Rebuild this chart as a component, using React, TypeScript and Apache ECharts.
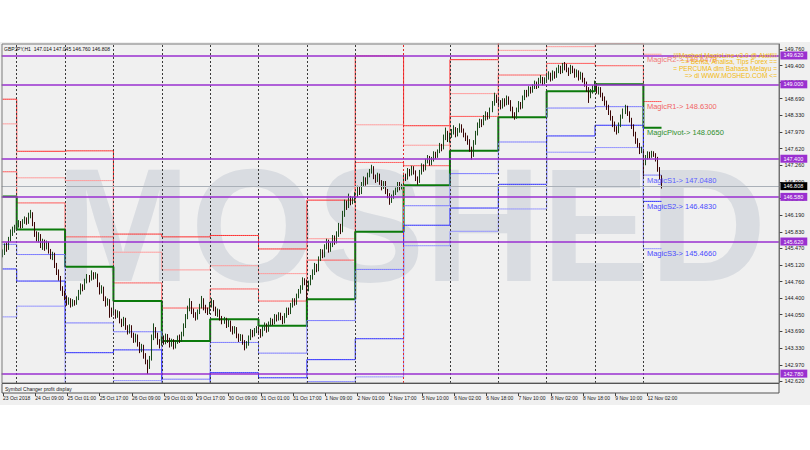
import React, { useEffect, useRef } from 'react';
import * as echarts from 'echarts';

// ---------- data ----------
const dayNames = ['23 Oct', '24 Oct', '25 Oct', '26 Oct', '29 Oct', '30 Oct', '31 Oct', '1 Nov', '2 Nov', '5 Nov', '6 Nov', '7 Nov', '8 Nov', '9 Nov', '12 Nov'];
const dayFirstHour = [17, 0, 0, 0, 0, 0, 0, 0, 0, 1, 0, 0, 0, 0, 0];

// H1 candles: [open, close, low, high]
const oct23 = [
  [145.35, 145.38, 145.28, 145.45], [145.38, 145.52, 145.33, 145.58], [145.52, 145.47, 145.40, 145.60], [145.47, 145.66, 145.44, 145.72],
  [145.66, 145.80, 145.62, 145.88], [145.80, 145.86, 145.74, 145.94], [145.86, 145.91, 145.81, 145.98],
];
const oct24 = [
  [145.91, 145.98, 145.86, 146.04], [145.98, 146.02, 145.92, 146.08], [146.02, 145.95, 145.90, 146.06], [145.95, 146.05, 145.91, 146.10],
  [146.05, 146.10, 146.00, 146.16], [146.10, 146.03, 145.98, 146.14], [146.03, 146.18, 146.00, 146.24], [146.18, 146.22, 146.12, 146.30],
  [146.22, 146.00, 145.95, 146.25], [146.00, 145.78, 145.72, 146.04], [145.78, 145.70, 145.62, 145.84], [145.70, 145.74, 145.60, 145.82],
  [145.74, 145.55, 145.48, 145.78], [145.55, 145.62, 145.44, 145.68], [145.62, 145.50, 145.42, 145.66], [145.50, 145.58, 145.45, 145.64],
  [145.58, 145.42, 145.36, 145.62], [145.42, 145.30, 145.24, 145.46], [145.30, 145.35, 145.22, 145.40], [145.35, 145.12, 145.05, 145.38],
  [145.12, 144.98, 144.90, 145.16], [144.98, 144.85, 144.78, 145.02], [144.85, 144.62, 144.56, 144.88], [144.62, 144.50, 144.45, 144.66],
];
const oct25 = [
  [144.50, 144.42, 144.36, 144.56], [144.42, 144.30, 144.24, 144.46], [144.30, 144.36, 144.26, 144.42], [144.36, 144.25, 144.20, 144.40],
  [144.25, 144.33, 144.22, 144.38], [144.33, 144.28, 144.24, 144.36], [144.28, 144.40, 144.26, 144.44], [144.40, 144.52, 144.36, 144.58],
  [144.52, 144.66, 144.48, 144.72], [144.66, 144.60, 144.55, 144.70], [144.60, 144.78, 144.58, 144.82], [144.78, 144.85, 144.72, 144.92],
  [144.85, 144.80, 144.74, 144.90], [144.80, 144.92, 144.78, 145.00], [144.92, 144.86, 144.80, 144.96], [144.86, 144.90, 144.82, 144.96],
  [144.90, 144.70, 144.64, 144.93], [144.70, 144.55, 144.48, 144.74], [144.55, 144.62, 144.50, 144.68], [144.62, 144.40, 144.34, 144.65],
  [144.40, 144.30, 144.22, 144.44], [144.30, 144.35, 144.24, 144.40], [144.35, 144.15, 143.98, 144.38], [144.15, 144.07, 144.00, 144.20],
];
const oct26 = [
  [144.07, 144.12, 144.03, 144.30], [144.12, 144.02, 143.96, 144.16], [144.02, 144.08, 143.98, 144.14], [144.08, 143.92, 143.86, 144.12],
  [143.92, 143.85, 143.78, 143.96], [143.85, 143.95, 143.80, 144.00], [143.95, 143.78, 143.72, 143.98], [143.78, 143.70, 143.62, 143.82],
  [143.70, 143.78, 143.64, 143.84], [143.78, 143.62, 143.55, 143.82], [143.62, 143.50, 143.44, 143.66], [143.50, 143.58, 143.45, 143.64],
  [143.58, 143.42, 143.36, 143.62], [143.42, 143.30, 143.22, 143.46], [143.30, 143.36, 143.24, 143.42], [143.36, 143.18, 143.10, 143.40],
  [143.18, 143.05, 142.98, 143.22], [143.05, 142.92, 142.77, 143.08], [142.92, 143.10, 142.88, 143.16], [143.10, 143.55, 143.06, 143.62],
  [143.55, 143.72, 143.50, 143.86], [143.72, 143.60, 143.54, 143.78], [143.60, 143.48, 143.40, 143.66], [143.48, 143.37, 143.32, 143.52],
];
const oct29 = [
  [143.42, 143.52, 143.38, 143.58], [143.52, 143.45, 143.40, 143.60], [143.45, 143.58, 143.41, 143.64], [143.58, 143.50, 143.44, 143.63],
  [143.50, 143.40, 143.34, 143.55], [143.40, 143.48, 143.36, 143.53], [143.48, 143.36, 143.30, 143.52], [143.36, 143.45, 143.32, 143.50],
  [143.45, 143.55, 143.42, 143.60], [143.55, 143.50, 143.44, 143.62], [143.50, 143.62, 143.46, 143.68], [143.62, 143.80, 143.58, 143.86],
  [143.80, 144.00, 143.76, 144.06], [144.00, 144.18, 143.95, 144.24], [144.18, 144.30, 144.12, 144.40], [144.30, 144.12, 144.06, 144.34],
  [144.12, 144.05, 143.98, 144.18], [144.05, 143.98, 143.92, 144.10], [143.98, 144.10, 143.94, 144.16], [144.10, 144.22, 144.06, 144.28],
  [144.22, 144.35, 144.18, 144.45], [144.35, 144.20, 144.14, 144.40], [144.20, 144.15, 144.08, 144.26], [144.15, 144.10, 144.04, 144.20],
];
const oct30 = [
  [144.10, 144.25, 144.06, 144.32], [144.25, 144.32, 144.20, 144.40], [144.32, 144.18, 144.12, 144.36], [144.18, 144.08, 144.02, 144.22],
  [144.08, 144.12, 144.00, 144.18], [144.12, 143.98, 143.92, 144.16], [143.98, 143.90, 143.84, 144.02], [143.90, 143.95, 143.85, 144.00],
  [143.95, 143.82, 143.76, 143.98], [143.82, 143.88, 143.78, 143.94], [143.88, 143.75, 143.68, 143.92], [143.75, 143.68, 143.62, 143.80],
  [143.68, 143.74, 143.64, 143.80], [143.74, 143.60, 143.54, 143.78], [143.60, 143.52, 143.46, 143.64], [143.52, 143.58, 143.48, 143.63],
  [143.58, 143.45, 143.40, 143.62], [143.45, 143.36, 143.28, 143.50], [143.36, 143.42, 143.32, 143.48], [143.42, 143.55, 143.38, 143.60],
  [143.55, 143.68, 143.50, 143.74], [143.68, 143.62, 143.56, 143.72], [143.62, 143.70, 143.58, 143.76], [143.70, 143.75, 143.65, 143.80],
];
const oct31 = [
  [143.75, 143.70, 143.64, 143.80], [143.70, 143.62, 143.55, 143.74], [143.62, 143.75, 143.58, 143.80], [143.75, 143.82, 143.70, 143.88],
  [143.82, 143.72, 143.66, 143.86], [143.72, 143.85, 143.68, 143.90], [143.85, 143.92, 143.80, 143.98], [143.92, 143.88, 143.82, 143.96],
  [143.88, 144.00, 143.84, 144.06], [144.00, 143.95, 143.90, 144.05], [143.95, 144.05, 143.92, 144.10], [144.05, 143.98, 143.93, 144.09],
  [143.98, 143.90, 143.84, 144.02], [143.90, 144.02, 143.86, 144.08], [144.02, 144.15, 143.98, 144.20], [144.15, 144.10, 144.04, 144.20],
  [144.10, 144.25, 144.06, 144.30], [144.25, 144.35, 144.20, 144.40], [144.35, 144.30, 144.24, 144.40], [144.30, 144.45, 144.26, 144.50],
  [144.45, 144.55, 144.40, 144.60], [144.55, 144.62, 144.50, 144.68], [144.62, 144.78, 144.58, 144.85], [144.78, 144.75, 144.68, 144.83],
];
const nov1 = [
  [144.75, 144.60, 144.35, 144.80], [144.60, 144.72, 144.55, 144.78], [144.72, 144.85, 144.68, 144.90], [144.85, 144.95, 144.80, 145.02],
  [144.95, 145.10, 144.90, 145.16], [145.10, 145.02, 144.96, 145.14], [145.02, 145.25, 144.98, 145.30], [145.25, 145.40, 145.20, 145.46],
  [145.40, 145.32, 145.26, 145.45], [145.32, 145.50, 145.28, 145.56], [145.50, 145.62, 145.45, 145.68], [145.62, 145.45, 145.38, 145.66],
  [145.45, 145.55, 145.40, 145.60], [145.55, 145.70, 145.50, 145.76], [145.70, 145.62, 145.55, 145.75], [145.62, 145.78, 145.58, 145.84],
  [145.78, 145.95, 145.72, 146.02], [145.95, 145.85, 145.78, 146.00], [145.85, 146.20, 145.82, 146.28], [146.20, 146.45, 146.15, 146.52],
  [146.45, 146.38, 146.30, 146.50], [146.38, 146.55, 146.34, 146.65], [146.55, 146.48, 146.40, 146.60], [146.48, 146.50, 146.42, 146.58],
];
const nov2 = [
  [146.50, 146.62, 146.45, 146.68], [146.62, 146.75, 146.58, 146.82], [146.75, 146.68, 146.62, 146.80], [146.68, 146.85, 146.64, 146.90],
  [146.85, 146.95, 146.80, 147.02], [146.95, 146.88, 146.82, 147.00], [146.88, 147.05, 146.85, 147.10], [147.05, 147.12, 147.00, 147.18],
  [147.12, 147.20, 147.08, 147.27], [147.20, 147.02, 146.96, 147.24], [147.02, 146.95, 146.88, 147.06], [146.95, 147.05, 146.90, 147.10],
  [147.05, 146.90, 146.84, 147.08], [146.90, 146.80, 146.72, 146.94], [146.80, 146.88, 146.75, 146.92], [146.88, 146.70, 146.64, 146.92],
  [146.70, 146.62, 146.55, 146.75], [146.62, 146.50, 146.41, 146.66], [146.50, 146.58, 146.45, 146.63], [146.58, 146.66, 146.54, 146.72],
  [146.66, 146.72, 146.62, 146.78], [146.72, 146.85, 146.68, 146.90], [146.85, 146.78, 146.72, 146.90], [146.78, 146.80, 146.74, 146.86],
];
const nov5 = [
  [146.82, 147.05, 146.80, 147.10], [147.05, 146.98, 146.92, 147.08], [146.98, 147.15, 146.95, 147.20], [147.15, 147.08, 147.02, 147.18],
  [147.08, 147.20, 147.04, 147.25], [147.20, 147.12, 147.06, 147.24], [147.12, 146.98, 146.92, 147.15], [146.98, 146.90, 146.84, 147.02],
  [146.90, 147.10, 146.88, 147.16], [147.10, 147.25, 147.06, 147.30], [147.25, 147.18, 147.12, 147.28], [147.18, 147.35, 147.15, 147.40],
  [147.35, 147.42, 147.30, 147.48], [147.42, 147.30, 147.25, 147.46], [147.30, 147.38, 147.26, 147.44], [147.38, 147.50, 147.34, 147.56],
  [147.50, 147.45, 147.40, 147.55], [147.45, 147.55, 147.42, 147.60], [147.55, 147.68, 147.52, 147.74], [147.68, 147.62, 147.56, 147.72],
  [147.62, 147.85, 147.60, 147.92], [147.85, 147.95, 147.80, 148.07], [147.95, 147.81, 147.76, 148.00],
];
const nov6 = [
  [147.81, 147.90, 147.75, 147.96], [147.90, 147.98, 147.85, 148.04], [147.98, 148.05, 147.92, 148.12], [148.05, 147.92, 147.86, 148.08],
  [147.92, 148.00, 147.88, 148.06], [148.00, 148.10, 147.96, 148.16], [148.10, 148.02, 147.96, 148.14], [148.02, 147.92, 147.86, 148.05],
  [147.92, 147.85, 147.78, 147.96], [147.85, 147.78, 147.70, 147.90], [147.78, 147.62, 147.55, 147.82], [147.62, 147.48, 147.38, 147.66],
  [147.48, 147.75, 147.44, 147.80], [147.75, 147.95, 147.70, 148.00], [147.95, 148.12, 147.90, 148.18], [148.12, 148.20, 148.06, 148.26],
  [148.20, 148.15, 148.08, 148.25], [148.15, 148.28, 148.12, 148.34], [148.28, 148.35, 148.22, 148.42], [148.35, 148.30, 148.24, 148.40],
  [148.30, 148.45, 148.26, 148.50], [148.45, 148.58, 148.40, 148.64], [148.58, 148.72, 148.54, 148.82], [148.72, 148.67, 148.60, 148.78],
];
const nov7 = [
  [148.67, 148.60, 148.54, 148.72], [148.60, 148.52, 148.46, 148.66], [148.52, 148.65, 148.48, 148.70], [148.65, 148.58, 148.52, 148.70],
  [148.58, 148.70, 148.55, 148.76], [148.70, 148.62, 148.56, 148.74], [148.62, 148.48, 148.42, 148.66], [148.48, 148.35, 148.28, 148.52],
  [148.35, 148.30, 148.24, 148.40], [148.30, 148.45, 148.26, 148.50], [148.45, 148.58, 148.40, 148.64], [148.58, 148.52, 148.46, 148.62],
  [148.52, 148.70, 148.48, 148.76], [148.70, 148.82, 148.66, 148.88], [148.82, 148.78, 148.72, 148.88], [148.78, 148.90, 148.74, 148.96],
  [148.90, 148.85, 148.80, 148.95], [148.85, 148.95, 148.82, 149.00], [148.95, 149.02, 148.90, 149.08], [149.02, 148.96, 148.90, 149.06],
  [148.96, 149.08, 148.92, 149.14], [149.08, 149.12, 149.02, 149.20], [149.12, 149.05, 148.98, 149.16], [149.05, 149.10, 149.00, 149.15],
];
const nov8 = [
  [149.10, 149.15, 149.05, 149.22], [149.15, 149.22, 149.10, 149.28], [149.22, 149.12, 149.06, 149.25], [149.12, 149.25, 149.08, 149.30],
  [149.25, 149.18, 149.12, 149.28], [149.18, 149.30, 149.14, 149.36], [149.30, 149.35, 149.24, 149.42], [149.35, 149.28, 149.22, 149.40],
  [149.28, 149.40, 149.24, 149.46], [149.40, 149.38, 149.30, 149.48], [149.38, 149.32, 149.26, 149.44], [149.32, 149.25, 149.18, 149.36],
  [149.25, 149.36, 149.22, 149.42], [149.36, 149.30, 149.24, 149.40], [149.30, 149.20, 149.14, 149.34], [149.20, 149.26, 149.15, 149.32],
  [149.26, 149.15, 149.08, 149.30], [149.15, 149.22, 149.10, 149.27], [149.22, 149.10, 149.04, 149.25], [149.10, 149.02, 148.95, 149.14],
  [149.02, 148.90, 148.84, 149.06], [148.90, 148.75, 148.60, 148.94], [148.75, 148.85, 148.70, 148.90], [148.85, 148.92, 148.80, 148.98],
];
const nov9 = [
  [148.92, 148.98, 148.88, 149.08], [148.98, 148.85, 148.80, 149.02], [148.85, 148.90, 148.78, 148.95], [148.90, 148.78, 148.72, 148.94],
  [148.78, 148.70, 148.64, 148.82], [148.70, 148.60, 148.54, 148.74], [148.60, 148.52, 148.45, 148.65], [148.52, 148.40, 148.34, 148.56],
  [148.40, 148.28, 148.22, 148.44], [148.28, 148.15, 148.08, 148.32], [148.15, 148.05, 147.98, 148.20], [148.05, 147.98, 147.92, 148.10],
  [147.98, 148.12, 147.95, 148.18], [148.12, 148.30, 148.08, 148.35], [148.30, 148.42, 148.26, 148.48], [148.42, 148.50, 148.36, 148.56],
  [148.50, 148.38, 148.32, 148.54], [148.38, 148.25, 148.18, 148.42], [148.25, 148.10, 148.04, 148.28], [148.10, 147.95, 147.88, 148.14],
  [147.95, 147.78, 147.72, 147.98], [147.78, 147.70, 147.64, 147.84], [147.70, 147.55, 147.50, 147.74], [147.55, 147.61, 147.52, 147.66],
];
const nov12 = [
  [147.55, 147.30, 147.02, 147.58], [147.30, 147.42, 147.26, 147.48], [147.42, 147.50, 147.38, 147.56], [147.50, 147.45, 147.40, 147.55],
  [147.45, 147.52, 147.42, 147.57], [147.52, 147.48, 147.44, 147.56], [147.48, 147.40, 147.34, 147.52], [147.40, 147.18, 147.12, 147.44],
  [147.18, 147.014, 146.95, 147.22], [147.014, 146.808, 146.76, 147.045],
];
const dailyBars = [oct23, oct24, oct25, oct26, oct29, oct30, oct31, nov1, nov2, nov5, nov6, nov7, nov8, nov9, nov12];

// daily pivot levels (one value per day)
const levelR3 = [148.68, 147.56, 147.57, 145.78, 145.72, 145.75, 145.46, 146.51, 149.61, 148.11, 149.53, 150.64, 150.42, 150.28, 150.212];
const levelR2 = [148.15, 146.99, 146.93, 145.39, 145.01, 145.10, 144.93, 145.68, 148.13, 147.69, 148.80, 149.73, 149.81, 149.88, 149.647];
const levelR1 = [147.12, 146.45, 145.72, 144.73, 144.19, 144.60, 144.34, 145.22, 147.32, 147.25, 148.31, 149.20, 149.45, 149.40, 148.63];
const levelP = [146.59, 145.88, 145.08, 144.34, 143.48, 143.95, 143.81, 144.38, 145.83, 146.83, 147.57, 148.29, 148.85, 149.00, 148.065];
const levelS1 = [145.56, 145.34, 143.87, 143.68, 142.66, 143.45, 143.22, 143.92, 145.02, 146.39, 147.08, 147.76, 148.49, 148.52, 147.048];
const levelS2 = [145.03, 144.77, 143.23, 143.29, 141.95, 142.80, 142.69, 143.08, 143.53, 145.97, 146.34, 146.85, 147.89, 148.12, 146.483];
const levelS3 = [144.00, 144.23, 142.02, 142.63, 141.13, 142.30, 142.10, 142.61, 142.71, 145.53, 145.84, 146.32, 147.54, 147.64, 145.466];

const hLineValues = [149.62, 149.0, 147.4, 146.58, 145.62, 142.78];
const lastPrice = 146.808;
const priceTicks = [149.76, 149.4, 149.05, 148.69, 148.33, 147.97, 147.62, 147.26, 146.9, 146.54, 146.19, 145.83, 145.47, 145.12, 144.76, 144.4, 144.05, 143.69, 143.33, 142.97, 142.62];
const yMin = 142.578;
const yMax = 149.867;
const totalSlots = 386;
const headerText = 'GBPJPY,H1  147.014 147.045 146.760 146.808';
const bannerLines = ['!!!Moshed MagicLine v3.0 @ Aktif!!!', '== Berita, Analisa, Tips Forex ==', '= PERCUMA dlm Bahasa Melayu =', '=> di WWW.MOSHED.COM <='];

// ---------- build ----------
const categories: string[] = [];
const candles: number[][] = [];
const dayOfBar: number[] = [];
dailyBars.forEach((bars, d) => {
  bars.forEach((b, k) => {
    const h = dayFirstHour[d] + k;
    categories.push(d === 0 && k === 0 ? '23 Oct 2018' : `${dayNames[d]} ${String(h).padStart(2, '0')}:00`);
    candles.push(b);
    dayOfBar.push(d);
  });
});
const barCount = candles.length;
while (categories.length < totalSlots) categories.push('');
const dayStarts: number[] = [];
dayOfBar.forEach((d, i) => { if (i > 0 && d !== dayOfBar[i - 1]) dayStarts.push(i); });
const lastDayStart = dayStarts[dayStarts.length - 1];
const lastDay = dayNames.length - 1;
const stepData = (arr: number[]) => dayOfBar.map((d) => arr[d]);

const FONT = 'Liberation Sans, Arial, sans-serif';
const labelEvery = (index: number) => index % 16 === 0 && index < barCount;

const levelDefs = [
  { arr: levelR3, color: '#ff2e2e', width: 1 },
  { arr: levelR2, color: '#ff9c9c', width: 1, tag: 'MagicR2', tagColor: '#f07878' },
  { arr: levelR1, color: '#ff5c5c', width: 1, tag: 'MagicR1', tagColor: '#f06464' },
  { arr: levelP, color: '#0b7a0b', width: 2, tag: 'MagicPivot', tagColor: '#2f8f2f' },
  { arr: levelS1, color: '#7a7aff', width: 1, tag: 'MagicS1', tagColor: '#5c5cff' },
  { arr: levelS2, color: '#2c2cff', width: 1, tag: 'MagicS2', tagColor: '#4a4aff' },
  { arr: levelS3, color: '#9494ff', width: 1, tag: 'MagicS3', tagColor: '#4a4aff' },
];

export default function App() {
  const ref = useRef<HTMLDivElement>(null);
  useEffect(() => {
    if (!ref.current) return;
    const chart = echarts.init(ref.current, undefined, { renderer: 'svg' });

    const levelSeries = levelDefs.map((def) => {
      const s: any = {
        type: 'line',
        step: 'end',
        data: stepData(def.arr),
        showSymbol: false,
        symbol: 'none',
        silent: true,
        z: 2,
        lineStyle: { color: def.color, width: def.width },
      };
      if (def.tag) {
        const v = def.arr[lastDay];
        s.markPoint = {
          silent: true,
          symbol: 'rect',
          symbolSize: 1,
          itemStyle: { color: 'rgba(0,0,0,0)' },
          label: {
            show: true,
            position: [4, 1.5],
            align: 'left',
            verticalAlign: 'top',
            formatter: `${def.tag}-> ${v.toFixed(4)}`,
            color: def.tagColor,
            fontSize: 7.5,
            fontFamily: FONT,
          },
          data: [{ coord: [lastDayStart, v] }],
        };
      }
      return s;
    });

    const purple = '#9a30d0';
    const markLines: any[] = [];
    dayStarts.forEach((i) => {
      markLines.push({
        xAxis: i,
        lineStyle: { color: dayNames[dayOfBar[i]] === '5 Nov' ? '#e02a2a' : '#3a3a3a', width: 1, type: [2, 2] },
        label: { show: false },
      });
    });
    markLines.push({
      yAxis: lastPrice,
      lineStyle: { color: '#aab0b8', width: 1, type: 'solid' },
      label: { show: true, position: 'end', distance: 1, formatter: lastPrice.toFixed(3), color: '#ffffff', backgroundColor: '#000000', fontSize: 5.5, fontFamily: FONT, padding: [1, 4, 1, 3] },
    });
    hLineValues.forEach((v) => {
      markLines.push({
        yAxis: v,
        lineStyle: { color: purple, width: 1.5, type: 'solid' },
        label: { show: true, position: 'end', distance: 1, formatter: v.toFixed(3), color: '#ffffff', backgroundColor: purple, fontSize: 5.5, fontFamily: FONT, padding: [1, 4, 1, 3] },
      });
    });

    const graphic: any[] = [
      { type: 'rect', z: -10, silent: true, shape: { x: 0, y: 42, width: 810, height: 363 }, style: { fill: '#f0f0f0' } },
      {
        type: 'text', z: -9, silent: true, x: 411, y: 224,
        style: { text: 'MOSHED', fill: '#d9dce1', font: `bold 162px ${FONT}`, align: 'center', verticalAlign: 'middle' },
      },
      { type: 'rect', z: 50, silent: true, shape: { x: 2, y: 44, width: 777, height: 339 }, style: { fill: 'none', stroke: '#7a7a7a', lineWidth: 1 } },
      { type: 'rect', z: 50, silent: true, shape: { x: 2, y: 383.5, width: 777, height: 9.5 }, style: { fill: '#f4f4f4', stroke: '#555555', lineWidth: 1 } },
      { type: 'text', z: 51, silent: true, x: 5, y: 388.5, style: { text: 'Symbol Changer profit display', fill: '#202020', font: `5px ${FONT}`, verticalAlign: 'middle' } },
      { type: 'text', z: 51, silent: true, x: 4, y: 48.5, style: { text: headerText, fill: '#101010', font: `5px ${FONT}`, verticalAlign: 'middle' } },
    ];
    bannerLines.forEach((t, k) => {
      graphic.push({
        type: 'text', z: 52, silent: true, x: 777, y: 55 + k * 6.7,
        style: { text: t, fill: '#f2b90f', font: `6.6px ${FONT}`, align: 'right', verticalAlign: 'middle' },
      });
    });

    const option: any = {
      animation: false,
      backgroundColor: '#ffffff',
      textStyle: { fontFamily: FONT },
      grid: [
        { left: 1.6, right: 30.6, top: 44, bottom: 67 },
        { left: 1.6, right: 30.6, top: 384, height: 9 },
      ],
      xAxis: [
        {
          type: 'category', gridIndex: 0, data: categories, boundaryGap: true,
          axisLine: { show: false }, axisTick: { show: false }, axisLabel: { show: false }, splitLine: { show: false },
        },
        {
          type: 'category', gridIndex: 1, data: categories, boundaryGap: true, position: 'bottom',
          axisLine: { show: false },
          axisTick: { show: true, interval: labelEvery, alignWithLabel: true, length: 3, lineStyle: { color: '#404040' } },
          axisLabel: { show: true, interval: labelEvery, align: 'left', margin: 2.5, fontSize: 5, color: '#1a1a1a', fontFamily: FONT },
          splitLine: { show: false },
        },
      ],
      yAxis: [
        {
          type: 'value', gridIndex: 0, position: 'right', min: yMin, max: yMax,
          axisLine: { show: true, lineStyle: { color: '#6a6a6a' } },
          axisTick: { show: true, customValues: priceTicks, length: 3, lineStyle: { color: '#404040' } },
          axisLabel: { show: true, customValues: priceTicks, formatter: (v: number) => v.toFixed(3), margin: 5, fontSize: 5.5, color: '#1a1a1a', fontFamily: FONT },
          splitLine: { show: false },
        },
        { type: 'value', gridIndex: 1, show: false },
      ],
      series: [
        ...levelSeries,
        {
          type: 'candlestick',
          xAxisIndex: 0,
          yAxisIndex: 0,
          data: candles,
          barWidth: 1.3,
          z: 3,
          silent: true,
          itemStyle: { color: '#9ab89a', color0: '#6b0f0f', borderColor: '#1a4a1a', borderColor0: '#3a0505', borderWidth: 1 },
          markLine: { silent: true, symbol: ['none', 'none'], animation: false, data: markLines },
        },
      ],
      graphic,
    };
    chart.setOption(option);
    return () => chart.dispose();
  }, []);
  return <div ref={ref} style={{ position: 'absolute', left: 0, top: 0, width: 810, height: 450 }} />;
}
